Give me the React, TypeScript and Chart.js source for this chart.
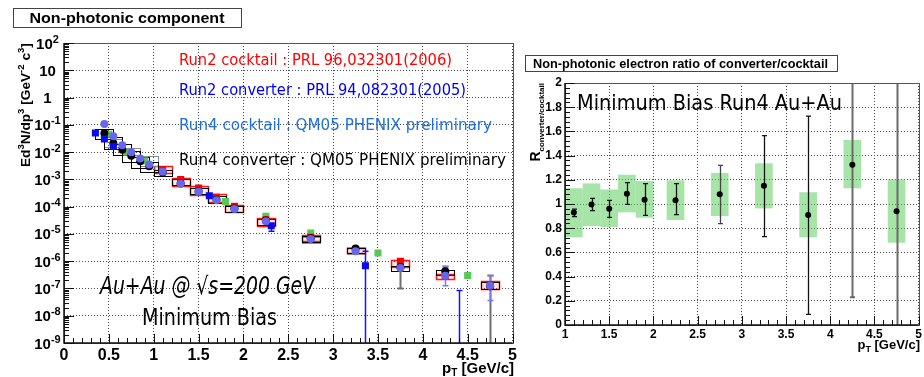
import { useEffect, useRef } from 'react';
import { Chart, registerables } from 'chart.js';

Chart.register(...registerables);

// ---------------- Invariant yield panel (Au+Au, minimum bias) ----------------
const run4CocktailPt = [0.45, 0.55, 0.65, 0.75, 0.85, 0.95, 1.1, 1.3, 1.5, 1.7, 1.9, 2.25, 2.75, 3.25, 3.75, 4.25, 4.75];
const run4CocktailYield = [0.107, 0.038, 0.0178, 0.0098, 0.0058, 0.0035, 0.0019, 6.9e-4, 3.5e-4, 1.7e-4, 8.2e-5, 2.9e-5, 6.5e-6, 2.3e-6, 5.6e-7, 2.9e-7, 1.26e-7];
const run4CocktailErrLow = [null, null, null, null, null, null, null, null, null, null, null, null, null, null, null, 1.26e-7, 3.6e-8];
const run4CocktailErrHigh = [null, null, null, null, null, null, null, null, null, null, null, null, null, null, null, 6.5e-7, 2.95e-7];
const run4CocktailSysPt = [0.55, 0.75, 0.95, 2.75, 3.25];
const run4CocktailSysLow = [0.015, 0.0079, 0.003, 5.0e-6, 1.8e-6];
const run4CocktailSysHigh = [0.03, 0.014, 0.0069, 8.0e-6, 3.2e-6];

const run4ConverterPt = [0.45, 0.55, 0.65, 0.75, 0.85, 0.95, 1.1, 1.3, 1.5, 1.7, 1.9, 2.25, 2.75, 3.25, 3.75, 4.25, 4.75];
const run4ConverterYield = [0.049, 0.021, 0.0123, 0.0074, 0.0046, 0.003, 0.0018, 7.0e-4, 3.6e-4, 1.8e-4, 8.5e-5, 3.1e-5, 7.0e-6, 2.9e-6, 6.0e-7, 4.3e-7, 1.2e-7];
const run4ConverterErrLow = [null, null, null, null, null, null, null, null, null, null, null, null, null, null, 1.0e-7, 2.6e-7, 1e-10];
const run4ConverterErrHigh = [null, null, null, null, null, null, null, null, null, null, null, null, null, null, 1.0e-6, 6.2e-7, 3.0e-7];
const run4ConverterSysLow = [0.03, 0.013, 0.0075, 0.0045, 0.0028, 0.0019, 0.0013, 5.9e-4, 2.8e-4, 1.35e-4, 6.3e-5, 2.2e-5, 5.2e-6, 1.9e-6, 4.3e-7, 3.2e-7, 8.9e-8];
const run4ConverterSysHigh = [0.071, 0.037, 0.019, 0.011, 0.0068, 0.0045, 0.0022, 1.02e-3, 4.8e-4, 2.4e-4, 1.07e-4, 3.6e-5, 8.7e-6, 3.0e-6, 6.8e-7, 4.9e-7, 1.66e-7];

const run2CocktailPt = [1.1, 1.3, 1.5, 1.7, 1.9, 2.25, 2.75, 3.25, 3.75, 4.25, 4.75];
const run2CocktailYield = [0.0023, 9.8e-4, 4.8e-4, 2.2e-4, 1.02e-4, 3.3e-5, 7.5e-6, 2.6e-6, 1.0e-6, 2.9e-7, 1.4e-7];
const run2CocktailSysLow = [1.7e-3, 5.5e-4, 2.8e-4, 1.4e-4, 6.3e-5, 2.0e-5, 5.5e-6, 2.0e-6, 6.2e-7, 2.3e-7, 8.9e-8];
const run2CocktailSysHigh = [3.0e-3, 1.12e-3, 5.9e-4, 2.8e-4, 1.17e-4, 3.8e-5, 9.0e-6, 3.1e-6, 1.12e-6, 3.4e-7, 1.8e-7];

const run2ConverterPt = [0.35, 0.45, 0.55, 1.62, 2.31, 3.36, 4.4];
const run2ConverterYield = [0.05, 0.03, 0.016, 2.5e-4, 2.0e-5, 6.8e-7, 5e-10];
const run2ConverterErrLow = [null, null, null, null, 1.26e-5, 1e-10, 1e-10];
const run2ConverterErrHigh = [null, null, null, null, 2.0e-5, 2.3e-6, 8.5e-8];

const extraPt = [0.5, 0.7, 0.9, 1.8, 2.25, 2.75, 3.5, 4.5];
const extraYield = [0.045, 0.01, 0.0048, 1.55e-4, 4.4e-5, 1.07e-5, 2.0e-6, 3.0e-7];

const yieldDecades = [1e-9, 1e-8, 1e-7, 1e-6, 1e-5, 1e-4, 1e-3, 1e-2, 1e-1, 1, 10, 100];

const legendLines = [
  'Run2 cocktail : PRL 96,032301(2006)',
  'Run2 converter : PRL 94,082301(2005)',
  'Run4 cocktail : QM05 PHENIX preliminary',
  'Run4 converter : QM05 PHENIX preliminary',
];

// ---------------- Converter / cocktail ratio panel ----------------
const ratioPt = [1.1, 1.3, 1.5, 1.7, 1.9, 2.25, 2.75, 3.25, 3.75, 4.25, 4.75];
const ratioValue = [0.93, 0.995, 0.96, 1.085, 1.035, 1.03, 1.08, 1.15, 0.91, 1.325, 0.94];
const ratioStatLow = [0.895, 0.945, 0.89, 0.997, 0.906, 0.912, 0.837, 0.73, 0.088, 0.229, 0];
const ratioStatHigh = [0.958, 1.047, 1.03, 1.176, 1.168, 1.168, 1.32, 1.565, 1.727, 2.42, 2.5];
const ratioSysLow = [0.725, 0.818, 0.81, 0.931, 0.887, 0.868, 0.901, 0.964, 0.725, 1.13, 0.68];
const ratioSysHigh = [1.13, 1.17, 1.12, 1.242, 1.19, 1.196, 1.256, 1.336, 1.097, 1.529, 1.204];

const ROOT_FONT = '"Liberation Sans", Arial, Helvetica, sans-serif';
const HAND_FONT = '"DejaVu Sans", sans-serif';
const SYS_HALF_WIDTH = 0.1;
const GRID_COLOR = '#4a4a4a';

type Part = { t: string; s?: 'sup' | 'sub' };

function pts(xs: number[], ys: number[]) {
  return xs.map((x, i) => ({ x, y: ys[i] }));
}

function markers(label: string, xs: number[], ys: number[], color: string, style: string, radius: number, order: number) {
  return {
    label,
    data: pts(xs, ys),
    pointStyle: style,
    pointRadius: radius,
    pointBackgroundColor: color,
    pointBorderColor: color,
    pointBorderWidth: 0,
    showLine: false,
    order,
    clip: 0,
  };
}

function clipArea(chart: any) {
  const a = chart.chartArea;
  chart.ctx.beginPath();
  chart.ctx.rect(a.left, a.top, a.right - a.left, a.bottom - a.top);
  chart.ctx.clip();
}

function drawBoxes(chart: any, xs: number[], lo: number[], hi: number[], stroke: string, fill: string | null, lw: number) {
  const ctx = chart.ctx;
  const xs_ = chart.scales.x;
  const ys_ = chart.scales.y;
  ctx.save();
  clipArea(chart);
  ctx.lineWidth = lw;
  xs.forEach((x, i) => {
    const x0 = xs_.getPixelForValue(x - SYS_HALF_WIDTH);
    const x1 = xs_.getPixelForValue(x + SYS_HALF_WIDTH);
    const y0 = ys_.getPixelForValue(hi[i]);
    const y1 = ys_.getPixelForValue(lo[i]);
    if (fill) {
      ctx.fillStyle = fill;
      ctx.fillRect(x0, y0, x1 - x0, y1 - y0);
    }
    if (stroke) {
      ctx.strokeStyle = stroke;
      ctx.strokeRect(Math.round(x0) + 0.5, Math.round(y0) + 0.5, Math.round(x1 - x0), Math.round(y1 - y0));
    }
  });
  ctx.restore();
}

function drawErrors(chart: any, xs: number[], lo: (number | null)[], hi: (number | null)[], color: (i: number) => string, lw: (i: number) => number, cap: number) {
  const ctx = chart.ctx;
  const xs_ = chart.scales.x;
  const ys_ = chart.scales.y;
  const a = chart.chartArea;
  ctx.save();
  clipArea(chart);
  xs.forEach((x, i) => {
    const l = lo[i];
    const h = hi[i];
    if (l === null || h === null) return;
    const px = Math.round(xs_.getPixelForValue(x)) + 0.5;
    const yl = ys_.getPixelForValue(l);
    const yh = ys_.getPixelForValue(h);
    ctx.strokeStyle = color(i);
    ctx.lineWidth = lw(i);
    ctx.beginPath();
    ctx.moveTo(px, yl);
    ctx.lineTo(px, yh);
    if (cap > 0) {
      if (yl < a.bottom - 1) {
        ctx.moveTo(px - cap, yl);
        ctx.lineTo(px + cap, yl);
      }
      if (yh > a.top + 1) {
        ctx.moveTo(px - cap, yh);
        ctx.lineTo(px + cap, yh);
      }
    }
    ctx.stroke();
  });
  ctx.restore();
}

function drawFrame(chart: any) {
  const ctx = chart.ctx;
  const a = chart.chartArea;
  ctx.save();
  ctx.strokeStyle = '#555';
  ctx.lineWidth = 1;
  ctx.strokeRect(Math.round(a.left) + 0.5, Math.round(a.top) + 0.5, Math.round(a.right - a.left), Math.round(a.bottom - a.top));
  ctx.strokeStyle = '#111';
  ctx.lineWidth = 1.5;
  ctx.beginPath();
  ctx.moveTo(a.left, a.top);
  ctx.lineTo(a.left, a.bottom);
  ctx.lineTo(a.right, a.bottom);
  ctx.stroke();
  ctx.restore();
}

function drawXTicks(chart: any, minor: number[], major: number[], minLen: number, majLen: number) {
  const ctx = chart.ctx;
  const a = chart.chartArea;
  const s = chart.scales.x;
  ctx.save();
  ctx.strokeStyle = '#111';
  ctx.lineWidth = 1;
  ctx.beginPath();
  minor.forEach((v) => {
    const px = Math.round(s.getPixelForValue(v)) + 0.5;
    ctx.moveTo(px, a.bottom);
    ctx.lineTo(px, a.bottom - minLen);
  });
  major.forEach((v) => {
    const px = Math.round(s.getPixelForValue(v)) + 0.5;
    ctx.moveTo(px, a.bottom);
    ctx.lineTo(px, a.bottom - majLen);
  });
  ctx.stroke();
  ctx.restore();
}

function drawYTicks(chart: any, minor: number[], major: number[], minLen: number, majLen: number) {
  const ctx = chart.ctx;
  const a = chart.chartArea;
  const s = chart.scales.y;
  ctx.save();
  ctx.strokeStyle = '#111';
  ctx.lineWidth = 1;
  ctx.beginPath();
  minor.forEach((v) => {
    const py = Math.round(s.getPixelForValue(v)) + 0.5;
    ctx.moveTo(a.left, py);
    ctx.lineTo(a.left + minLen, py);
  });
  major.forEach((v) => {
    const py = Math.round(s.getPixelForValue(v)) + 0.5;
    ctx.moveTo(a.left, py);
    ctx.lineTo(a.left + majLen, py);
  });
  ctx.stroke();
  ctx.restore();
}

function partsWidth(ctx: CanvasRenderingContext2D, parts: Part[], size: number, small: number) {
  let w = 0;
  parts.forEach((p) => {
    ctx.font = `bold ${p.s ? small : size}px ${ROOT_FONT}`;
    w += ctx.measureText(p.t).width;
  });
  return w;
}

function drawParts(ctx: CanvasRenderingContext2D, parts: Part[], x: number, y: number, size: number, small: number, up: number, down: number) {
  let cx = x;
  parts.forEach((p) => {
    ctx.font = `bold ${p.s ? small : size}px ${ROOT_FONT}`;
    const dy = p.s === 'sup' ? -up : p.s === 'sub' ? down : 0;
    ctx.fillText(p.t, cx, y + dy);
    cx += ctx.measureText(p.t).width;
  });
}

// Draw a single-line label stretched horizontally to a given width.
function stretchedText(ctx: CanvasRenderingContext2D, text: string, x: number, y: number, width: number, font: string, color: string) {
  ctx.save();
  ctx.font = font;
  ctx.fillStyle = color;
  ctx.textBaseline = 'alphabetic';
  ctx.textAlign = 'left';
  const w = ctx.measureText(text).width;
  ctx.translate(x, y);
  ctx.scale(width / w, 1);
  ctx.fillText(text, 0, 0);
  ctx.restore();
}

function titleBox(ctx: CanvasRenderingContext2D, text: string, box: [number, number, number, number], tx: number, ty: number, tw: number, size: number) {
  ctx.save();
  ctx.fillStyle = '#fff';
  ctx.fillRect(box[0], box[1], box[2], box[3]);
  ctx.strokeStyle = '#444';
  ctx.lineWidth = 1;
  ctx.strokeRect(box[0] + 0.5, box[1] + 0.5, box[2], box[3]);
  ctx.restore();
  stretchedText(ctx, text, tx, ty, tw, `bold ${size}px ${ROOT_FONT}`, '#000');
}

function range(from: number, to: number, step: number) {
  const out: number[] = [];
  const n = Math.round((to - from) / step);
  for (let i = 0; i <= n; i++) out.push(+(from + i * step).toFixed(6));
  return out;
}

const spectrumDecor = {
  id: 'spectrumDecor',
  beforeDatasetsDraw(chart: any) {
    drawBoxes(chart, run2CocktailPt, run2CocktailSysLow, run2CocktailSysHigh, 'rgba(255,0,0,0.9)', 'rgba(255,110,110,0.16)', 1.5);
    drawBoxes(chart, run4CocktailSysPt, run4CocktailSysLow, run4CocktailSysHigh, '#8c8c8c', null, 1);
    drawBoxes(chart, run4ConverterPt, run4ConverterSysLow, run4ConverterSysHigh, '#000', null, 1);
    drawErrors(chart, run4ConverterPt, run4ConverterErrLow, run4ConverterErrHigh, () => '#6e6e6e', () => 2, 3);
    drawErrors(chart, run2ConverterPt, run2ConverterErrLow, run2ConverterErrHigh, () => '#1414f0', () => 1.5, 3);
    drawErrors(chart, run4CocktailPt, run4CocktailErrLow, run4CocktailErrHigh, () => '#7a7aee', () => 1.5, 3);
  },
  afterDraw(chart: any) {
    const ctx: CanvasRenderingContext2D = chart.ctx;
    drawFrame(chart);
    drawXTicks(chart, range(0, 5, 0.1), range(0, 5, 0.5), 5, 9);
    const minorY: number[] = [];
    yieldDecades.slice(0, -1).forEach((d) => {
      for (let m = 2; m <= 9; m++) minorY.push(d * m);
    });
    drawYTicks(chart, minorY, yieldDecades, 5, 10);

    // decade labels: 10^n with raised exponent, centred under one column
    const ys = chart.scales.y;
    ctx.save();
    ctx.fillStyle = '#000';
    ctx.textBaseline = 'alphabetic';
    yieldDecades.forEach((v) => {
      const e = Math.round(Math.log10(v));
      const parts: Part[] = e === 0 ? [{ t: '1' }] : e === 1 ? [{ t: '10' }] : [{ t: '10' }, { t: e < 0 ? '-' + -e : String(e), s: 'sup' }];
      const w = partsWidth(ctx, parts, 15, 11);
      const py = ys.getPixelForValue(v);
      drawParts(ctx, parts, 47.5 - w / 2, py + 5.5, 15, 11, 6, 0);
    });
    ctx.restore();

    // axis titles
    ctx.save();
    ctx.fillStyle = '#000';
    const yTitle: Part[] = [{ t: 'Ed' }, { t: '3', s: 'sup' }, { t: 'N/dp' }, { t: '3', s: 'sup' }, { t: ' [GeV' }, { t: '-2', s: 'sup' }, { t: ' c' }, { t: '3', s: 'sup' }, { t: ']' }];
    const natural = partsWidth(ctx, yTitle, 100, 70);
    const size = (124 / natural) * 100;
    ctx.translate(30, 43);
    ctx.rotate(-Math.PI / 2);
    drawParts(ctx, yTitle, -124, 0, size, size * 0.7, size * 0.42, 0);
    ctx.restore();

    ctx.save();
    ctx.fillStyle = '#000';
    const xTitle: Part[] = [{ t: 'p' }, { t: 'T', s: 'sub' }, { t: ' [GeV/c]' }];
    const xw = partsWidth(ctx, xTitle, 15, 10);
    drawParts(ctx, xTitle, 514 - xw, 373, 15, 10, 0, 3);
    ctx.restore();

    titleBox(ctx, 'Non-photonic component', [13, 8, 228, 19], 29.5, 22.7, 195, 15);

    const legendColors = ['#ff0000', '#0000f0', '#1e6ee0', '#000000'];
    const legendBase = [65, 95, 130, 165];
    const legendWidth = [273, 287, 313, 327];
    legendLines.forEach((t, i) => {
      stretchedText(ctx, t, 179, legendBase[i], legendWidth[i], `16px ${HAND_FONT}`, legendColors[i]);
    });
    stretchedText(ctx, 'Au+Au @ \u221As=200 GeV', 100, 294, 215, `oblique 24px ${HAND_FONT}`, '#000');
    stretchedText(ctx, 'Minimum Bias', 142, 325, 135, `23px ${HAND_FONT}`, '#000');
  },
};

const ratioDecor = {
  id: 'ratioDecor',
  beforeDatasetsDraw(chart: any) {
    drawBoxes(chart, ratioPt, ratioSysLow, ratioSysHigh, '', 'rgba(95,205,95,0.55)', 1);
    drawErrors(
      chart,
      ratioPt,
      ratioStatLow,
      ratioStatHigh,
      (i) => (ratioPt[i] > 4 ? '#6a6a6a' : ratioPt[i] === 2.75 ? '#444' : '#111'),
      (i) => (ratioPt[i] > 4 ? 2 : 1.3),
      2.5
    );
  },
  afterDraw(chart: any) {
    const ctx: CanvasRenderingContext2D = chart.ctx;
    drawFrame(chart);
    drawXTicks(chart, range(1, 5, 0.1), range(1, 5, 0.5), 5, 9);
    drawYTicks(chart, range(0, 2, 0.04), range(0, 2, 0.2), 5, 10);

    ctx.save();
    ctx.fillStyle = '#000';
    const yTitle: Part[] = [{ t: 'R' }, { t: 'converter/cocktail', s: 'sub' }];
    ctx.translate(20, 83);
    ctx.rotate(-Math.PI / 2);
    const w = partsWidth(ctx, yTitle, 14, 8);
    drawParts(ctx, yTitle, -w, 0, 14, 8, 0, 4);
    ctx.restore();

    ctx.save();
    ctx.fillStyle = '#000';
    const xTitle: Part[] = [{ t: 'p' }, { t: 'T', s: 'sub' }, { t: ' [GeV/c]' }];
    const xw = partsWidth(ctx, xTitle, 13, 9);
    drawParts(ctx, xTitle, 400 - xw, 349, 13, 9, 0, 3);
    ctx.restore();

    titleBox(ctx, 'Non-photonic electron ratio of converter/cocktail', [5, 55, 312, 16], 13, 67.5, 295, 12);
    stretchedText(ctx, 'Minimum Bias Run4 Au+Au', 57, 110, 265, `21px ${HAND_FONT}`, '#000');
  },
};

const labelFormat = (v: any) => String(Math.round(Number(v) * 10) / 10);

function spectrumConfig(): any {
  return {
    type: 'scatter',
    data: {
      datasets: [
        markers('Run4 cocktail', run4CocktailPt, run4CocktailYield, '#6767ee', 'circle', 4, 0),
        markers('Run2 converter', run2ConverterPt, run2ConverterYield, '#0a0aee', 'rect', 5, 1),
        markers('Run4 converter', run4ConverterPt, run4ConverterYield, '#000000', 'circle', 4, 2),
        markers('Run2 cocktail', run2CocktailPt, run2CocktailYield, '#ff0000', 'rect', 5, 3),
        markers('Run4 (other)', extraPt, extraYield, '#55c855', 'rect', 5, 4),
      ],
    },
    options: {
      responsive: false,
      animation: false,
      devicePixelRatio: 1,
      events: [],
      layout: { padding: { left: 0, top: 43, right: 6, bottom: 0 } },
      plugins: { legend: { display: false }, tooltip: { enabled: false } },
      scales: {
        x: {
          type: 'linear',
          min: 0,
          max: 5,
          afterFit: (s: any) => {
            s.height = 34;
          },
          ticks: {
            stepSize: 0.5,
            padding: 3,
            color: '#000',
            autoSkip: false,
            maxRotation: 0,
            font: { family: ROOT_FONT, size: 16, weight: 'bold' },
            callback: labelFormat,
          },
          grid: { color: GRID_COLOR, lineWidth: 1, drawTicks: false },
          border: { display: false, dash: [1, 2] },
        },
        y: {
          type: 'logarithmic',
          min: 1e-9,
          max: 100,
          afterFit: (s: any) => {
            s.width = 64;
          },
          afterBuildTicks: (s: any) => {
            s.ticks = yieldDecades.map((v) => ({ value: v, major: true }));
          },
          ticks: { display: false },
          grid: { color: GRID_COLOR, lineWidth: 1, drawTicks: false },
          border: { display: false, dash: [1, 2] },
        },
      },
    },
    plugins: [spectrumDecor],
  };
}

function ratioConfig(): any {
  return {
    type: 'scatter',
    data: {
      datasets: [markers('converter/cocktail', ratioPt, ratioValue, '#000000', 'circle', 3, 0)],
    },
    options: {
      responsive: false,
      animation: false,
      devicePixelRatio: 1,
      events: [],
      layout: { padding: { left: 0, top: 83, right: 4, bottom: 0 } },
      plugins: { legend: { display: false }, tooltip: { enabled: false } },
      scales: {
        x: {
          type: 'linear',
          min: 1,
          max: 5,
          afterFit: (s: any) => {
            s.height = 52;
          },
          ticks: {
            stepSize: 0.5,
            padding: 2,
            color: '#000',
            autoSkip: false,
            maxRotation: 0,
            font: { family: ROOT_FONT, size: 12, weight: 'bold' },
            callback: labelFormat,
          },
          grid: { color: GRID_COLOR, lineWidth: 1, drawTicks: false },
          border: { display: false, dash: [1, 2] },
        },
        y: {
          type: 'linear',
          min: 0,
          max: 2,
          afterFit: (s: any) => {
            s.width = 45;
          },
          ticks: {
            stepSize: 0.2,
            padding: 3,
            color: '#000',
            autoSkip: false,
            font: { family: ROOT_FONT, size: 12, weight: 'bold' },
            callback: labelFormat,
          },
          grid: { color: GRID_COLOR, lineWidth: 1, drawTicks: false },
          border: { display: false, dash: [1, 2] },
        },
      },
    },
    plugins: [ratioDecor],
  };
}

export default function App() {
  const leftRef = useRef<HTMLCanvasElement>(null);
  const rightRef = useRef<HTMLCanvasElement>(null);

  useEffect(() => {
    const left = new Chart(leftRef.current as HTMLCanvasElement, spectrumConfig());
    const right = new Chart(rightRef.current as HTMLCanvasElement, ratioConfig());
    return () => {
      left.destroy();
      right.destroy();
    };
  }, []);

  return (
    <div style={{ position: 'absolute', left: 0, top: 0, width: 924, height: 377, background: '#fff' }}>
      <canvas ref={leftRef} width={520} height={377} style={{ position: 'absolute', left: 0, top: 0 }} />
      <canvas ref={rightRef} width={404} height={377} style={{ position: 'absolute', left: 520, top: 0 }} />
    </div>
  );
}
